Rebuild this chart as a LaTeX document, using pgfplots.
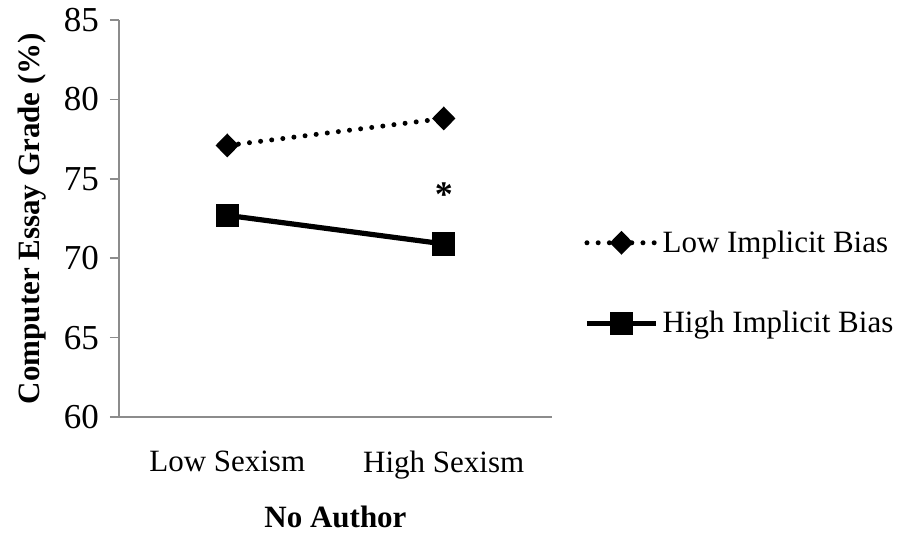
\documentclass[border=0pt]{standalone}
\usepackage{pgfplots}
\pgfplotsset{compat=1.18}
\usepackage{fontspec}
\setmainfont{Liberation Serif}
\newcommand\ft{\fontsize{15.5pt}{18pt}\selectfont}
\newcommand\fty{\fontsize{17.5pt}{20pt}\selectfont}
\definecolor{axgray}{RGB}{140,140,140}
\begin{document}
\begin{tikzpicture}
\useasboundingbox (0,0) rectangle (449pt,269pt);
\begin{axis}[
  at={(59.5pt,60.5pt)}, anchor=south west,
  scale only axis, width=216.5pt, height=198.5pt,
  xmin=0.5, xmax=2.5, ymin=60, ymax=85,
  axis x line=bottom, axis y line=left,
  axis line style={-, axgray, line width=0.8pt},
  ytick={60,65,...,85},
  xtick={1,2}, xticklabels={Low Sexism, High Sexism},
  x tick style={draw=none},
  extra x ticks={0.5,1.5,2.5}, extra x tick labels={},
  extra x tick style={tick style={axgray, line width=0.8pt}, major tick length=4pt, tick align=outside},
  y tick style={axgray, line width=0.8pt},
  major tick length=4.5pt, tick align=outside,
  /pgf/number format/assume math mode=true,
  tick label style={font=\ft},
  yticklabel style={font=\fty, xshift=-2pt},
  xticklabel style={yshift=-9pt},
  ylabel={\textbf{Computer Essay Grade (\%)}},
  ylabel style={font=\ft, yshift=2pt},
  xlabel={\textbf{No Author}},
  xlabel style={font=\ft, yshift=2pt},
  legend style={draw=none, fill=none, at={(1.06,0.3375)}, anchor=west, font=\ft,
    row sep=24pt, cells={anchor=west}},
  legend image code/.code={
    \draw[#1] (0pt,0pt) -- (34.5pt,0pt);
    \draw[#1, solid] plot[only marks] coordinates {(17.25pt,0pt)};
  },
]
\addplot[black, line width=2.5pt, line cap=round, dash pattern=on 0pt off 5.6pt,
  mark=diamond*, mark options={solid, xscale=1.3}, mark size=4.2pt]
  coordinates {(1,77.1) (2,78.8)};
\addlegendentry{Low Implicit Bias}
\addplot[black, line width=2.6pt, mark=square*, mark options={solid}, mark size=4.5pt]
  coordinates {(1,72.7) (2,70.9)};
\addlegendentry{High Implicit Bias}
\node[font=\fontsize{18pt}{20pt}\selectfont] at (axis cs:2,74.0) {\textbf{*}};
\end{axis}
\end{tikzpicture}
\end{document}
